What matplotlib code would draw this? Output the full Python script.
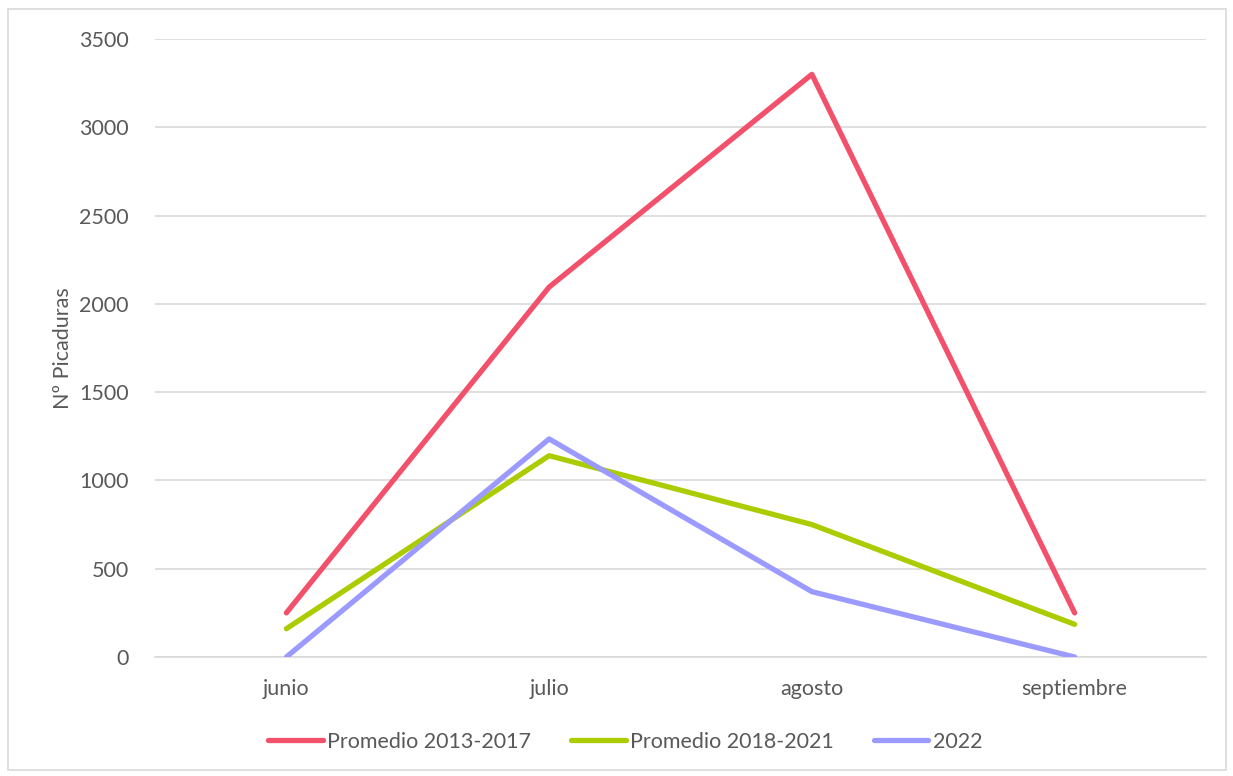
import matplotlib
matplotlib.use("Agg")
import matplotlib.pyplot as plt
from matplotlib.patches import Rectangle

months = ["junio", "julio", "agosto", "septiembre"]
series_names = ["Promedio 2013-2017", "Promedio 2018-2021", "2022"]
prom_2013_2017 = [250, 2095, 3300, 250]
prom_2018_2021 = [160, 1140, 750, 185]
y2022 = [0, 1235, 370, 0]
colors = ["#F2506B", "#ABCC00", "#9B9BFF"]
yticks = [0, 500, 1000, 1500, 2000, 2500, 3000, 3500]

plt.rcParams['font.family'] = ['Lato', 'DejaVu Sans']

W, H = 1233, 776
FS = 15.5
fig = plt.figure(figsize=(W / 100, H / 100), dpi=100)
fig.patches.append(Rectangle((8 / W, 1 - 770 / H), 1218 / W, 761 / H,
                             transform=fig.transFigure, fill=False,
                             edgecolor="#D9D9D9", linewidth=1.2))
ax = fig.add_axes([155 / W, 1 - 657 / H, (1206 - 155) / W, (657 - 39) / H])

x = list(range(len(months)))
for vals, name, c in zip([prom_2013_2017, prom_2018_2021, y2022], series_names, colors):
    ax.plot(x, vals, color=c, linewidth=3.8, solid_capstyle="round",
            solid_joinstyle="round", label=name, zorder=3)

ax.set_xlim(-0.5, 3.5)
ax.set_ylim(0, 3500)
ax.set_yticks(yticks)
ax.set_xticks(x)
ax.set_xticklabels(months)
ax.grid(axis="y", color="#D9D9D9", linewidth=1.2, zorder=0)
for s in ["top", "right", "left"]:
    ax.spines[s].set_visible(False)
ax.spines["bottom"].set_color("#D9D9D9")
ax.spines["bottom"].set_linewidth(1.2)
ax.tick_params(axis="both", length=0, labelsize=FS, colors="#595959")
ax.tick_params(axis="y", pad=19)
ax.tick_params(axis="x", pad=16)
ax.set_ylabel("Nº Picaduras", fontsize=FS, color="#595959", labelpad=4)

leg = fig.legend(loc="center", bbox_to_anchor=(625 / W, 1 - 742 / H), ncol=3,
                 frameon=False, fontsize=FS, handlelength=2.55,
                 handletextpad=0.2, columnspacing=1.85)
for t in leg.get_texts():
    t.set_color("#595959")

fig.savefig("out.png", dpi=100)
